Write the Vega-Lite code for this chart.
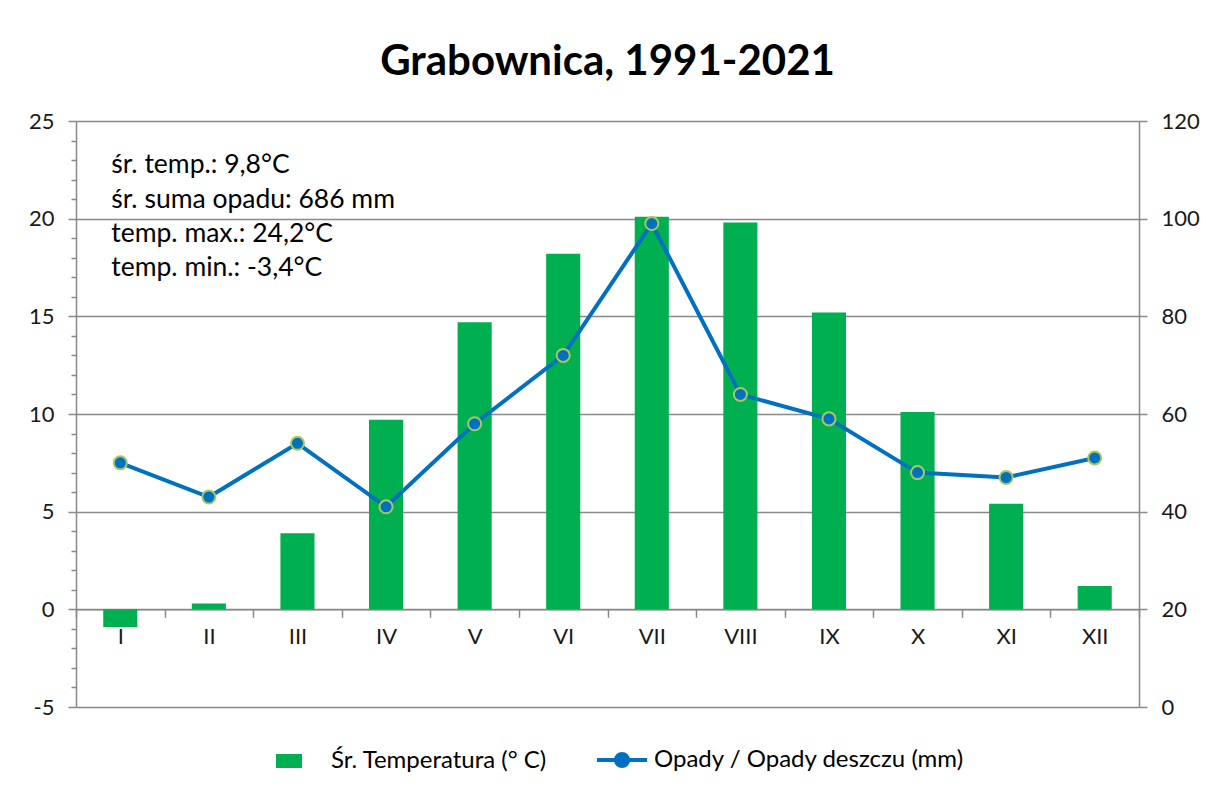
{
  "$schema": "https://vega.github.io/schema/vega-lite/v6.json",
  "width": 1063,
  "height": 586,
  "autosize": {"type": "none"},
  "padding": {"left": 76, "top": 121, "right": 67, "bottom": 85},
  "background": "white",
  "config": {
    "view": {"stroke": null},
    "font": "Lato",
    "axis": {"labelFont": "Lato", "labelColor": "#1a1a1a", "domainColor": "#898989", "tickColor": "#898989", "gridColor": "#898989"}
  },
  "title": {
    "text": "Grabownica, 1991-2021",
    "font": "Lato",
    "fontSize": 42,
    "fontWeight": "bold",
    "color": "#000000",
    "anchor": "middle",
    "offset": 26
  },
  "datasets": {
    "months": [
      {"month": "I", "temp": -0.9, "opady": 50},
      {"month": "II", "temp": 0.3, "opady": 43},
      {"month": "III", "temp": 3.9, "opady": 54},
      {"month": "IV", "temp": 9.7, "opady": 41},
      {"month": "V", "temp": 14.7, "opady": 58},
      {"month": "VI", "temp": 18.2, "opady": 72},
      {"month": "VII", "temp": 20.1, "opady": 99},
      {"month": "VIII", "temp": 19.8, "opady": 64},
      {"month": "IX", "temp": 15.2, "opady": 59},
      {"month": "X", "temp": 10.1, "opady": 48},
      {"month": "XI", "temp": 5.4, "opady": 47},
      {"month": "XII", "temp": 1.2, "opady": 51}
    ],
    "notes": [
      {"label": "śr. temp.: 9,8°C", "pos": 22.75},
      {"label": "śr. suma opadu: 686 mm", "pos": 20.95},
      {"label": "temp. max.: 24,2°C", "pos": 19.2},
      {"label": "temp. min.: -3,4°C", "pos": 17.45}
    ]
  },
  "encoding": {
    "x": {
      "field": "month",
      "type": "nominal",
      "sort": null,
      "scale": {"domain": ["I","II","III","IV","V","VI","VII","VIII","IX","X","XI","XII"], "paddingInner": 0, "paddingOuter": 0},
      "axis": {
        "title": null,
        "labelAngle": 0,
        "labelFontSize": 22,
        "labelPadding": 9,
        "tickBand": "extent",
        "tickSize": 8,
        "tickWidth": 1.5,
        "domainWidth": 1.5,
        "offset": -97.67
      }
    }
  },
  "layer": [
    {
      "layer": [
        {
          "data": {"name": "months"},
          "mark": {"type": "bar", "width": {"band": 0.385}},
          "encoding": {
            "y": {
              "field": "temp",
              "type": "quantitative",
              "scale": {"domain": [-5, 25], "nice": false, "zero": false},
              "axis": {
                "title": null,
                "orient": "left",
                "values": [-5,-4,-3,-2,-1,0,1,2,3,4,5,6,7,8,9,10,11,12,13,14,15,16,17,18,19,20,21,22,23,24,25],
                "tickCount": 100,
                "labelExpr": "datum.value % 5 === 0 ? '' + datum.value : ''",
                "labelOverlap": false,
                "labelFontSize": 22,
                "labelPadding": 14,
                "tickSize": {"condition": {"test": "datum.value % 5 === 0", "value": 8}, "value": 5},
                "tickWidth": 1.5,
                "domainWidth": 1.5,
                "grid": true,
                "gridWidth": 1.5,
                "gridOpacity": {"condition": {"test": "datum.value % 5 === 0", "value": 1}, "value": 0}
              }
            },
            "color": {
              "datum": "Śr. Temperatura (° C)",
              "scale": {"domain": ["Śr. Temperatura (° C)", "Opady / Opady deszczu (mm)"], "range": ["#00B050", "#0070C0"]},
              "legend": {
                "orient": "none",
                "legendX": 211,
                "legendY": 627,
                "direction": "horizontal",
                "title": null,
                "labelFont": "Lato",
                "labelFontSize": 24,
                "labelLimit": 500,
                "labelColor": "#000000",
                "labelOffset": 20,
                "symbolSize": 2500,
                "columnPadding": 42,
                "encode": {
                  "symbols": {
                    "update": {
                      "shape": {"signal": "datum.value === 'Śr. Temperatura (° C)' ? 'M-0.92,-0.28H0.12V0.28H-0.92Z' : 'M-1,0H1M-0.24,0A0.24,0.24 0 1,0 0.24,0A0.24,0.24 0 1,0 -0.24,0'"},
                      "fill": {"signal": "scale('color', datum.value)"},
                      "stroke": {"signal": "scale('color', datum.value)"},
                      "strokeWidth": {"signal": "datum.value === 'Śr. Temperatura (° C)' ? 0 : 4"},
                      "opacity": {"value": 1},
                      "fillOpacity": {"value": 1},
                      "strokeOpacity": {"value": 1}
                    }
                  }
                }
              }
            }
          }
        },
        {
          "data": {"name": "notes"},
          "mark": {"type": "text", "align": "left", "baseline": "middle", "dx": -9, "fontSize": 26.5, "font": "Lato", "color": "#000000"},
          "encoding": {
            "x": {"datum": "I"},
            "y": {"field": "pos", "type": "quantitative"},
            "text": {"field": "label"}
          }
        }
      ]
    },
    {
      "data": {"name": "months"},
      "layer": [
        {
          "mark": {"type": "line", "strokeWidth": 4},
          "encoding": {
            "y": {
              "field": "opady",
              "type": "quantitative",
              "scale": {"domain": [0, 120], "nice": false},
              "axis": {
                "title": null,
                "orient": "right",
                "values": [0, 20, 40, 60, 80, 100, 120],
                "labelFontSize": 22,
                "labelPadding": 14,
                "tickSize": 8,
                "tickWidth": 1.5,
                "domainWidth": 1.5,
                "grid": false
              }
            },
            "color": {"datum": "Opady / Opady deszczu (mm)"}
          }
        },
        {
          "mark": {"type": "point", "filled": true, "fill": "#0070C0", "stroke": "#A9C85A", "strokeWidth": 2, "size": 170, "opacity": 1},
          "encoding": {
            "y": {"field": "opady", "type": "quantitative"}
          }
        }
      ]
    }
  ],
  "resolve": {"scale": {"y": "independent"}}
}
